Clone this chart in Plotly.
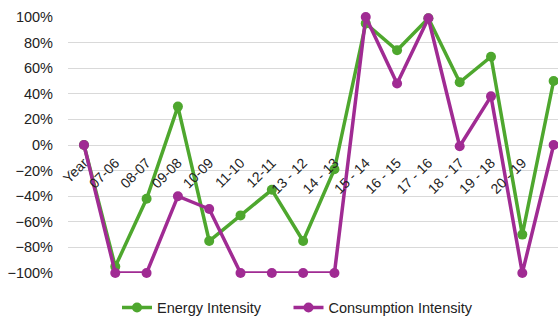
import plotly.graph_objects as go

categories = ["Year", "07-06", "08-07", "09-08", "10-09", "11-10", "12-11",
              "13 - 12", "14 - 13", "15 - 14", "16 - 15", "17 - 16",
              "18 - 17", "19 - 18", "20 - 19", "21 - 20"]
energy_intensity = [0.0, -0.95, -0.42, 0.30, -0.75, -0.55, -0.35, -0.75,
                    -0.19, 0.95, 0.74, 0.99, 0.49, 0.69, -0.70, 0.50]
consumption_intensity = [0.0, -1.0, -1.0, -0.40, -0.50, -1.0, -1.0, -1.0,
                         -1.0, 1.0, 0.48, 0.99, -0.01, 0.38, -1.0, 0.0]
y_ticks = [-1.0, -0.8, -0.6, -0.4, -0.2, 0.0, 0.2, 0.4, 0.6, 0.8, 1.0]

GREEN = "#4EA72E"
PURPLE = "#A02B93"
FONT = "Liberation Sans, Arial, sans-serif"

x_idx = list(range(len(categories)))

fig = go.Figure()
fig.add_trace(go.Scatter(
    x=x_idx, y=energy_intensity, name="Energy Intensity",
    mode="lines+markers", line=dict(color=GREEN, width=3.5),
    marker=dict(color=GREEN, size=10), cliponaxis=False,
    legend="legend"))
fig.add_trace(go.Scatter(
    x=x_idx, y=consumption_intensity, name="Consumption Intensity",
    mode="lines+markers", line=dict(color=PURPLE, width=3.5),
    marker=dict(color=PURPLE, size=10), cliponaxis=False,
    legend="legend2"))

legend_style = dict(orientation="h", xanchor="left", y=-0.135,
                    yanchor="middle", font=dict(size=14.5),
                    bgcolor="rgba(0,0,0,0)", itemsizing="trace")

fig.update_layout(
    width=558, height=320,
    margin=dict(l=68, r=0, t=17, b=47, autoexpand=False),
    paper_bgcolor="white", plot_bgcolor="white",
    font=dict(family=FONT, size=14, color="#222222"),
    showlegend=True,
    legend=dict(x=0.100, **legend_style),
    legend2=dict(x=0.450, **legend_style),
    xaxis=dict(
        range=[-0.51, 15.14], tickmode="array", tickvals=x_idx,
        ticktext=categories, tickangle=-45, showgrid=False,
        zeroline=False, showline=False, ticks="",
        ticklabelstandoff=6, automargin=False,
        anchor="free", position=0.5, fixedrange=True),
    yaxis=dict(
        range=[-1.0, 1.0], tickmode="array", tickvals=y_ticks,
        tickformat=".0%", showgrid=True, gridcolor="#D9D9D9",
        gridwidth=1, zeroline=False, ticks="", ticklabelstandoff=14,
        tickfont=dict(size=14.5), automargin=False,
        showline=False, fixedrange=True),
)

fig.write_html("out.html",
               config={"displayModeBar": False, "staticPlot": True},
               post_script="document.body.style.margin='0';"
                           "document.body.style.overflow='hidden';")
